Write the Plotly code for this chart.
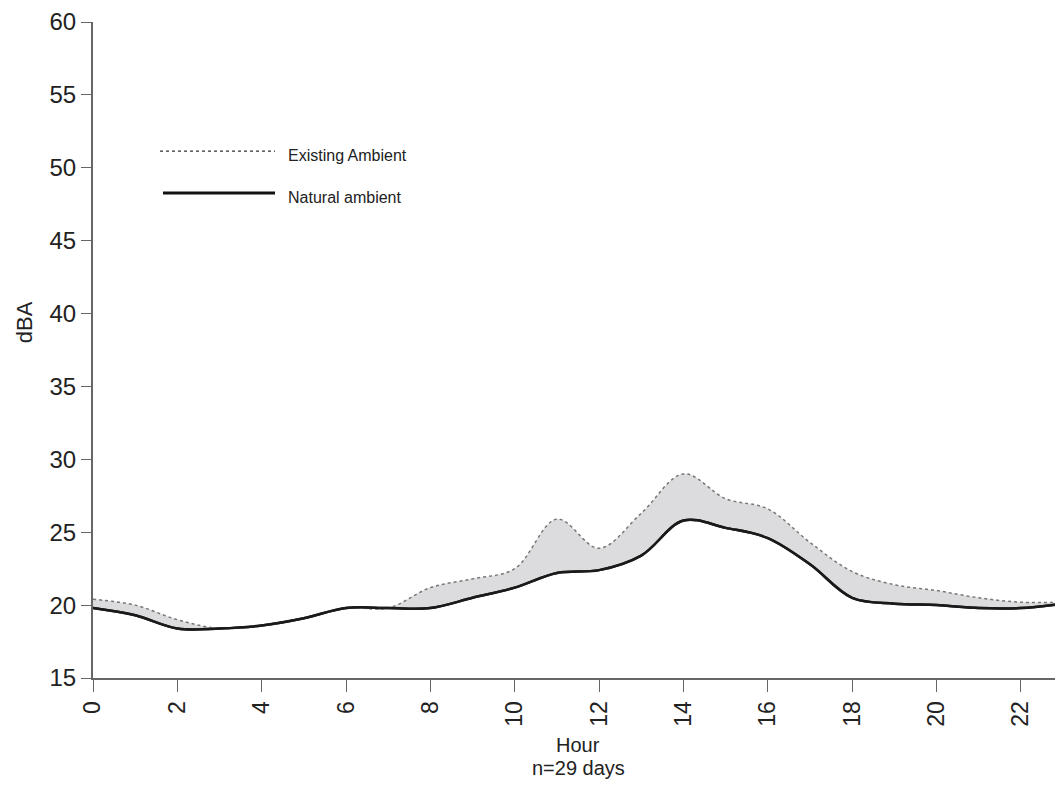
import plotly.graph_objects as go

hours = list(range(24))
natural = [19.8, 19.3, 18.4, 18.4, 18.6, 19.1, 19.8, 19.8, 19.8, 20.5, 21.2, 22.2,
           22.4, 23.4, 25.8, 25.3, 24.6, 22.8, 20.5, 20.1, 20.0, 19.8, 19.8, 20.1]
existing = [20.4, 20.0, 19.0, 18.4, 18.6, 19.1, 19.8, 19.8, 21.2, 21.8, 22.5, 25.9,
            23.9, 26.3, 29.0, 27.3, 26.6, 24.3, 22.3, 21.4, 21.0, 20.5, 20.2, 20.2]
x_ticks = list(range(0, 23, 2))
y_ticks = list(range(15, 61, 5))

# page body has an 8px margin; plot area spans page x 93..1063, y 18..678
L, T, W, H = 85, 10, 970, 660

def px(x):
    return (x - 93) / W

def py(y):
    return (678 - y) / H

fig = go.Figure()
fig.add_trace(go.Scatter(x=hours, y=natural, mode="lines",
                         line=dict(color="#1a1a1a", width=2.5, shape="spline", smoothing=1.0),
                         name="Natural ambient", showlegend=False))
fig.add_trace(go.Scatter(x=hours, y=existing, mode="lines", fill="tonexty",
                         fillcolor="#dcdbdd",
                         line=dict(color="#777777", width=1.5, dash="dot", shape="spline", smoothing=1.0),
                         name="Existing Ambient", showlegend=False))
fig.add_trace(go.Scatter(x=hours, y=natural, mode="lines",
                         line=dict(color="#1a1a1a", width=2.5, shape="spline", smoothing=1.0),
                         showlegend=False, hoverinfo="skip"))

# legend drawn inside the plot
fig.add_shape(type="line", xref="paper", yref="paper", x0=px(160), x1=px(275),
              y0=py(148), y1=py(148), line=dict(color="#333", width=1.3, dash="dot"))
fig.add_shape(type="line", xref="paper", yref="paper", x0=px(163), x1=px(275),
              y0=py(190), y1=py(190), line=dict(color="#111", width=3))
legend_font = dict(family="Liberation Sans Narrow, Arial Narrow, Liberation Sans, Arial", size=16, color="#222")
fig.add_annotation(xref="paper", yref="paper", x=px(286), y=py(152), text="Existing Ambient",
                   showarrow=False, xanchor="left", yanchor="middle", font=legend_font)
fig.add_annotation(xref="paper", yref="paper", x=px(286), y=py(195), text="Natural ambient",
                   showarrow=False, xanchor="left", yanchor="middle", font=legend_font)

# axis titles
fig.add_annotation(xref="paper", yref="paper", x=px(578), y=py(745), text="Hour",
                   showarrow=False, xanchor="center", yanchor="middle",
                   font=dict(size=20, color="#222"))
fig.add_annotation(xref="paper", yref="paper", x=px(578), y=py(769), text="n=29 days",
                   showarrow=False, xanchor="center", yanchor="middle",
                   font=dict(size=20, color="#222"))
fig.add_annotation(xref="paper", yref="paper", x=px(24), y=py(320), text="dBA", textangle=-90,
                   showarrow=False, xanchor="center", yanchor="middle",
                   font=dict(size=22, color="#222"))

fig.update_layout(
    width=L + W, height=777,
    margin=dict(l=L, r=0, t=T, b=777 - T - H),
    plot_bgcolor="white", paper_bgcolor="white",
    font=dict(family="Liberation Sans, Arial", color="#222"),
    xaxis=dict(range=[0, 23], tickvals=x_ticks, tickangle=-90, ticks="outside", ticklen=12,
               tickcolor="#666", showline=True, linecolor="#666", linewidth=2,
               showgrid=False, zeroline=False, tickfont=dict(size=23),
               ticklabeloverflow="allow"),
    yaxis=dict(range=[15, 60], tickvals=y_ticks, ticks="outside", ticklen=10,
               tickcolor="#666", showline=True, linecolor="#666", linewidth=2,
               showgrid=False, zeroline=False, tickfont=dict(size=24),
               ticklabeloverflow="allow"),
)

fig.write_html("out.html")
